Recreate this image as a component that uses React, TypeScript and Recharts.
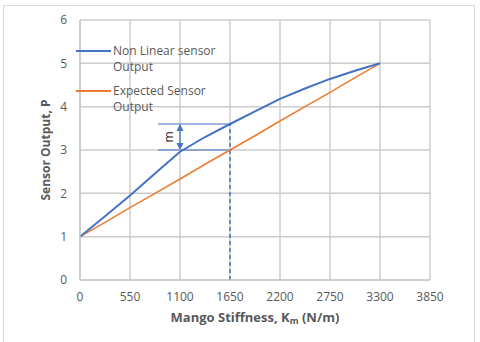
import { LineChart, Line, XAxis, YAxis, ReferenceLine } from 'recharts'

const stiffness = [0, 275, 550, 825, 1100, 1375, 1650, 1925, 2200, 2475, 2750, 3025, 3300]
const nonLinear = [1.0, 1.47, 1.95, 2.46, 2.96, 3.3, 3.6, 3.89, 4.18, 4.42, 4.64, 4.83, 5.0]
const expected = [1.0, 1.33, 1.67, 2.0, 2.33, 2.67, 3.0, 3.33, 3.67, 4.0, 4.33, 4.67, 5.0]
const xTicks = [0, 550, 1100, 1650, 2200, 2750, 3300, 3850]
const yTicks = [0, 1, 2, 3, 4, 5, 6]

// annotation: the gap m at K = 1650
const markX = 1650
const markTop = 3.6
const markBottom = 3.0
const markLeft = 858
const markRight = 1672
const arrowX = 1100

const data = stiffness.map((k, i) => ({ k, nonLinear: nonLinear[i], expected: expected[i] }))

const gray = '#595959'
const gridColor = '#cccccc'
const font = '"Open Sans", sans-serif'

function Arrow(props: any) {
  const { x1, y1, x2, y2 } = props
  const x = x1
  const top = Math.min(y1, y2)
  const bot = Math.max(y1, y2)
  const mid = (top + bot) / 2
  return (
    <g>
      <line x1={x} y1={top + 4} x2={x} y2={bot - 4} stroke="#4472C4" strokeWidth={1.3} />
      <polygon points={`${x},${top} ${x - 3.5},${top + 7} ${x + 3.5},${top + 7}`} fill="#4472C4" />
      <polygon points={`${x},${bot} ${x - 3.5},${bot - 7} ${x + 3.5},${bot - 7}`} fill="#4472C4" />
      <text x={x - 12} y={mid} transform={`rotate(-90 ${x - 12} ${mid})`} textAnchor="middle" dominantBaseline="central" fontSize={12} fontFamily={font} fill="#222">
        m
      </text>
    </g>
  )
}

const legendItems = [
  { color: '#4472C4', lines: ['Non Linear sensor', 'Output'], w: 2 },
  { color: '#ED7D31', lines: ['Expected Sensor', 'Output'], w: 1.5 },
]

function LegendBox() {
  return (
    <div style={{ position: 'absolute', left: 76, top: 43, fontFamily: font, fontSize: 12, color: gray }}>
      {legendItems.map((it) => (
        <div key={it.lines[0]} style={{ display: 'flex', height: 40 }}>
          <div style={{ width: 37, height: 16, display: 'flex', alignItems: 'center' }}>
            <div style={{ width: 35, height: it.w, background: it.color }} />
          </div>
          <div style={{ lineHeight: '16px', whiteSpace: 'nowrap' }}>
            {it.lines[0]}
            <br />
            {it.lines[1]}
          </div>
        </div>
      ))}
    </div>
  )
}

export default function App() {
  return (
    <div style={{ position: 'fixed', left: 0, top: 0, width: 480, height: 342, background: '#fff', overflow: 'hidden' }}>
      <div style={{ position: 'absolute', left: 3, top: 5, width: 470, height: 345, borderLeft: '1.5px solid #d9d9d9', borderTop: '1.5px solid #d9d9d9', borderRight: '1.5px solid #d9d9d9' }} />
      <LineChart width={480} height={342} data={data} margin={{ top: 20, right: 50, bottom: 22, left: 20 }} style={{ position: 'absolute', left: 0, top: 0 }}>
        <XAxis
          dataKey="k"
          type="number"
          domain={[0, 3850]}
          ticks={xTicks}
          interval={0}
          height={40}
          axisLine={{ stroke: '#bfbfbf', strokeWidth: 1.5 }}
          tickLine={false}
          tickMargin={6}
          tick={{ fill: gray, fontSize: 12, fontFamily: font }}
          label={{
            content: (p: any) => {
              const vb = p.viewBox
              return (
                <text x={255} y={vb.y + 37} textAnchor="middle" dominantBaseline="central" fontFamily={font} fontSize={13} fontWeight="bold" fill={gray}>
                  Mango Stiffness, K<tspan fontSize={9} dy={3}>m</tspan>
                  <tspan dy={-3}> (N/m)</tspan>
                </text>
              )
            },
          }}
        />
        <YAxis
          type="number"
          domain={[0, 6]}
          ticks={yTicks}
          interval={0}
          width={60}
          axisLine={{ stroke: '#bfbfbf', strokeWidth: 1.5 }}
          tickLine={false}
          tickMargin={7}
          tick={{ fill: gray, fontSize: 12, fontFamily: font }}
          label={{
            content: () => (
              <text x={45} y={150} transform="rotate(-90 45 150)" textAnchor="middle" dominantBaseline="central" fontFamily={font} fontSize={12} fontWeight="bold" fill={gray}>
                Sensor Output, P
              </text>
            ),
          }}
        />
        {xTicks.slice(1).map((t) => (
          <ReferenceLine key={'gx' + t} x={t} stroke={gridColor} strokeWidth={1.5} />
        ))}
        {yTicks.slice(1).map((t) => (
          <ReferenceLine key={'gy' + t} y={t} stroke={gridColor} strokeWidth={1.5} />
        ))}
        <ReferenceLine segment={[{ x: markX, y: 0 }, { x: markX, y: markTop }]} stroke="#4472C4" strokeWidth={1.5} strokeDasharray="4 3" />
        <ReferenceLine segment={[{ x: markLeft, y: markTop }, { x: markRight, y: markTop }]} stroke="#4472C4" strokeWidth={1} />
        <ReferenceLine segment={[{ x: markLeft, y: markBottom }, { x: markRight, y: markBottom }]} stroke="#4472C4" strokeWidth={1} />
        <ReferenceLine segment={[{ x: arrowX, y: markTop }, { x: arrowX, y: markBottom }]} shape={Arrow} />
        <Line dataKey="expected" name="Expected Sensor Output" stroke="#ED7D31" strokeWidth={1.6} dot={false} isAnimationActive={false} />
        <Line dataKey="nonLinear" name="Non Linear sensor Output" stroke="#4472C4" strokeWidth={2} dot={false} isAnimationActive={false} />
      </LineChart>
      <LegendBox />
    </div>
  )
}
